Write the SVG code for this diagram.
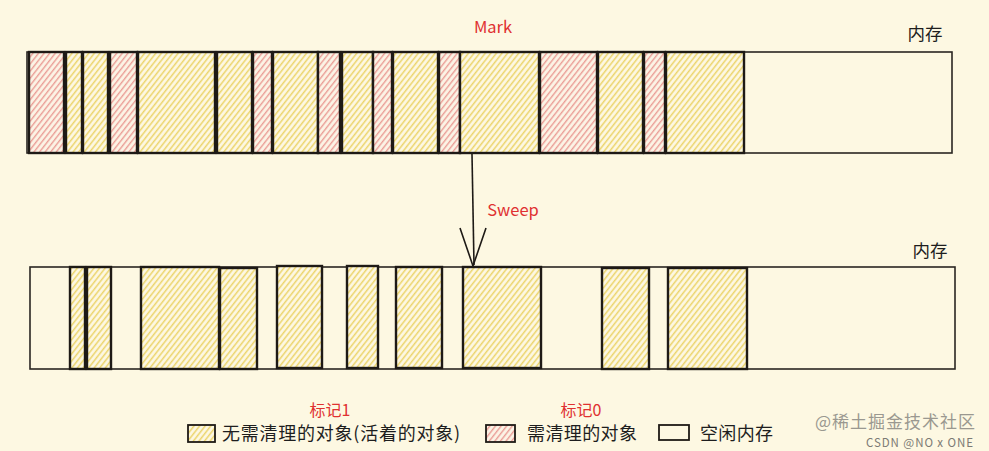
<svg xmlns="http://www.w3.org/2000/svg" width="989" height="451" viewBox="0 0 989 451">
<defs>
<pattern id="hy" patternUnits="userSpaceOnUse" width="4.4" height="10" patternTransform="rotate(38)">
<rect width="4.4" height="10" fill="#fdf8e4"/>
<line x1="1.5" y1="0" x2="1.5" y2="10" stroke="#ecd46a" stroke-width="1.5"/>
</pattern>
<pattern id="hr" patternUnits="userSpaceOnUse" width="4.4" height="10" patternTransform="rotate(38)">
<rect width="4.4" height="10" fill="#fcf4e6"/>
<line x1="1.5" y1="0" x2="1.5" y2="10" stroke="#ea9c95" stroke-width="1.4"/>
</pattern>
</defs>
<style>
.bar{fill:#fdf8e2;stroke:#2a2622;stroke-width:1.6}
.y{fill:url(#hy);stroke:#1e1a16;stroke-width:2.4}
.r{fill:url(#hr);stroke:#1e1a16;stroke-width:2.4}
.e{fill:none;stroke:#1e1a16;stroke-width:1.8}
.red{fill:#e03131;font-family:"Noto Sans CJK SC","Noto Sans",sans-serif}
.lbl{fill:#1e1e1e;font-family:"Noto Sans CJK SC","Noto Sans",sans-serif}
.wm{font-family:"Noto Sans CJK SC","Noto Sans",sans-serif}
</style>
<rect width="989" height="451" fill="#fdf8e2"/>

<g id="memory-before">
<rect class="bar" x="27" y="52" width="925" height="101"/>
<rect class="r" x="29" y="52" width="35" height="101"/>
<rect class="y" x="66" y="52" width="16" height="101"/>
<rect class="y" x="83" y="52" width="25" height="101"/>
<rect class="r" x="110" y="52" width="27" height="101"/>
<rect class="y" x="138" y="52" width="77" height="101"/>
<rect class="y" x="217" y="52" width="35" height="101"/>
<rect class="r" x="253" y="52" width="19" height="101"/>
<rect class="y" x="273" y="52" width="45" height="101"/>
<rect class="r" x="318" y="52" width="22" height="101"/>
<rect class="y" x="342" y="52" width="31" height="101"/>
<rect class="r" x="373" y="52" width="19" height="101"/>
<rect class="y" x="393" y="52" width="45" height="101"/>
<rect class="r" x="439" y="52" width="21" height="101"/>
<rect class="y" x="460" y="52" width="79" height="101"/>
<rect class="r" x="540" y="52" width="57" height="101"/>
<rect class="y" x="598" y="52" width="45" height="101"/>
<rect class="r" x="644" y="52" width="21" height="101"/>
<rect class="y" x="666" y="52" width="78" height="101"/>
</g>

<g id="memory-after">
<rect class="bar" x="30" y="267" width="925" height="102"/>
<rect class="y" x="70" y="267" width="15" height="102"/>
<rect class="y" x="87" y="267" width="24" height="102"/>
<rect class="y" x="141" y="267" width="78" height="102"/>
<rect class="y" x="220" y="268" width="37" height="101"/>
<rect class="y" x="277" y="266" width="45" height="102"/>
<rect class="y" x="347" y="266" width="31" height="102"/>
<rect class="y" x="396" y="267" width="46" height="101"/>
<rect class="y" x="463" y="267" width="78" height="101"/>
<rect class="y" x="602" y="268" width="47" height="101"/>
<rect class="y" x="668" y="268" width="79" height="101"/>
</g>

<g id="label-mark"><text class="red" x="493" y="33" font-size="16.5" text-anchor="middle">Mark</text></g>
<g id="label-sweep"><text class="red" x="513" y="216" font-size="16.5" text-anchor="middle">Sweep</text></g>
<g id="label-mem-top"><text class="lbl" x="925" y="40" font-size="17.5" text-anchor="middle">内存</text></g>
<g id="label-mem-bottom"><text class="lbl" x="930" y="257" font-size="17.5" text-anchor="middle">内存</text></g>

<g id="connectors">
<path d="M472 154 L474 265" fill="none" stroke="#1e1a16" stroke-width="1.6"/>
<path d="M460 228 L473 266 L486 228" fill="none" stroke="#1e1a16" stroke-width="1.6" stroke-linejoin="round"/>
</g>

<g id="legend-live">
<text class="red" x="330" y="416" font-size="16" text-anchor="middle">标记1</text>
<rect class="y" x="188" y="425" width="27" height="17" style="stroke-width:1.8"/>
<text class="lbl" x="222" y="440" font-size="18" textLength="238" lengthAdjust="spacing">无需清理的对象(活着的对象)</text>
</g>
<g id="legend-garbage">
<text class="red" x="581" y="416" font-size="16" text-anchor="middle">标记0</text>
<rect class="r" x="486" y="425" width="29" height="17" style="stroke-width:1.8"/>
<text class="lbl" x="527" y="440" font-size="18" textLength="110" lengthAdjust="spacing">需清理的对象</text>
</g>
<g id="legend-free">
<rect class="e" x="659" y="425" width="30" height="15"/>
<text class="lbl" x="700" y="440" font-size="18" textLength="73" lengthAdjust="spacing">空闲内存</text>
</g>

<g id="watermark">
<text class="wm" x="815" y="428" font-size="17" fill="#9a9890" textLength="160" lengthAdjust="spacing">@稀土掘金技术社区</text>
<text class="wm" x="866" y="447" font-size="11.5" fill="#7c7a74" textLength="107" lengthAdjust="spacing">CSDN @NO x ONE</text>
</g>
</svg>
